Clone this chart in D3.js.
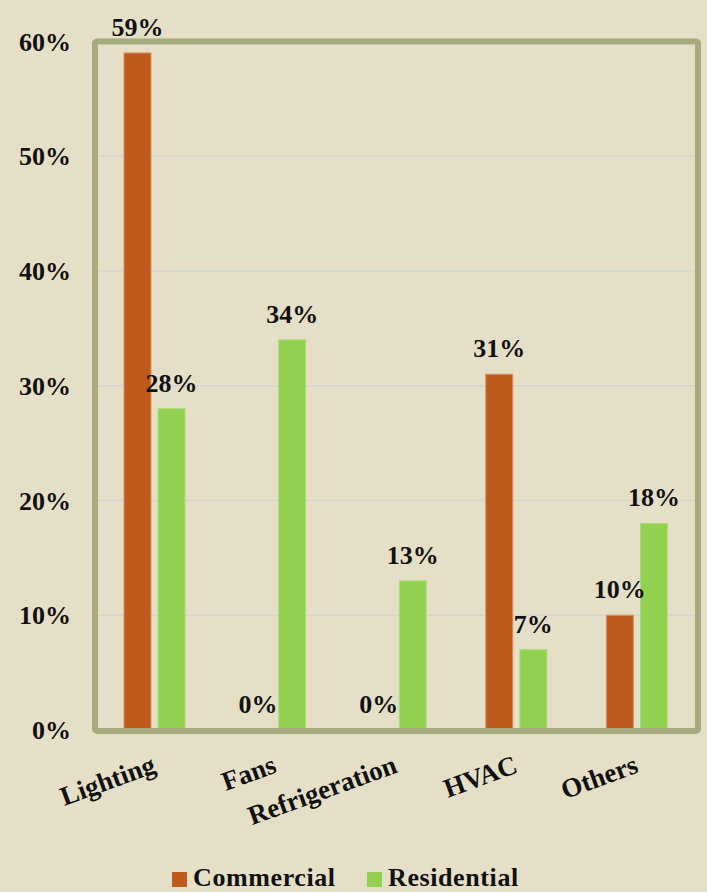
<!DOCTYPE html>
<html>
<head>
<meta charset="utf-8">
<script src="https://cdn.jsdelivr.net/npm/d3@7"></script>
<style>
  body { margin: 0; background: #e6dfc7; }
  svg text { font-family: "Liberation Serif", "Times New Roman", serif; font-weight: bold; fill: #111; }
</style>
</head>
<body>
<div id="chart"></div>
<script>
var categories = ["Lighting", "Fans", "Refrigeration", "HVAC", "Others"];
var seriesNames = ["Commercial", "Residential"];
var commercial = [59, 0, 0, 31, 10];
var residential = [28, 34, 13, 7, 18];
var yTicks = [0, 10, 20, 30, 40, 50, 60];
var colors = ["#be5a1b", "#92d050"];

var W = 707, H = 892;
var margin = {top: 41.5, right: 9, bottom: 162, left: 95};
var width = W - margin.left - margin.right,
    height = H - margin.top - margin.bottom;

var svg = d3.select("#chart").append("svg").attr("width", W).attr("height", H);
svg.append("rect").attr("width", W).attr("height", H).attr("fill", "#e6dfc7");

var g = svg.append("g").attr("transform", "translate(" + margin.left + "," + margin.top + ")");

var x = d3.scaleBand().domain(categories).range([0, width]);
var x1 = d3.scaleBand().domain(seriesNames).range([29, 90]).paddingInner(0.21);
var y = d3.scaleLinear().domain([0, 60]).range([height, 0]);

// gridlines
g.selectAll(".grid").data(yTicks.slice(1, -1)).enter().append("line")
  .attr("x1", 0).attr("x2", width)
  .attr("y1", function(d) { return y(d); }).attr("y2", function(d) { return y(d); })
  .attr("stroke", "#d6d4cc").attr("stroke-width", 1.5);

// bottom axis line
g.append("line").attr("x1", 0).attr("x2", width)
  .attr("y1", height + 2).attr("y2", height + 2)
  .attr("stroke", "#d3d2cb").attr("stroke-width", 2);

var data = [];
categories.forEach(function(c, i) {
  data.push({cat: c, series: "Commercial", value: commercial[i]});
  data.push({cat: c, series: "Residential", value: residential[i]});
});

g.selectAll(".bar").data(data.filter(function(d) { return d.value > 0; })).enter().append("rect")
  .attr("class", "bar")
  .attr("x", function(d) { return x(d.cat) + x1(d.series); })
  .attr("width", x1.bandwidth())
  .attr("y", function(d) { return y(d.value); })
  .attr("height", function(d) { return height - y(d.value); })
  .attr("fill", function(d) { return colors[seriesNames.indexOf(d.series)]; })
  .attr("stroke", function(d) { return d.series == "Commercial" ? "#d98a5c" : "#a8dc78"; })
  .attr("stroke-width", 1);

// data labels
var labels = g.selectAll(".label").data(data).enter().append("g");
labels.each(function(d) {
  var cx = x(d.cat) + x1(d.series) + x1.bandwidth() / 2;
  var top = y(d.value);
  var ly = top - 17;
  if (ly - 20 < -margin.top) {
    // label pushed up with a leader line
    ly = top - 26;
    d3.select(this).append("line")
      .attr("x1", cx).attr("x2", cx).attr("y1", ly + 9).attr("y2", top)
      .attr("stroke", "#a6a6a6").attr("stroke-width", 1);
  }
  d3.select(this).append("text")
    .attr("x", cx).attr("y", ly)
    .attr("text-anchor", "middle")
    .style("font-size", "26px")
    .text(d.value + "%");
});

// y axis labels
g.selectAll(".ylab").data(yTicks).enter().append("text")
  .attr("x", -24).attr("y", function(d) { return y(d); })
  .attr("dy", "0.35em")
  .attr("text-anchor", "end")
  .style("font-size", "26px")
  .text(function(d) { return d + "%"; });

// x axis labels
g.selectAll(".xlab").data(categories).enter().append("text")
  .attr("text-anchor", "end")
  .attr("transform", function(d) {
    return "translate(" + (x(d) + x.bandwidth() / 2 + 2) + "," + (height + 42) + ") rotate(-20)";
  })
  .style("font-size", "27px")
  .text(function(d) { return d; });

// plot border
g.append("rect").attr("x", 0).attr("y", 0).attr("width", width).attr("height", height + 1)
  .attr("fill", "none").attr("stroke", "#a7aa7f").attr("stroke-width", 6).attr("rx", 2);

// legend
var legend = svg.append("g").attr("transform", "translate(172,872)");
var lx = [0, 195];
seriesNames.forEach(function(s, i) {
  var item = legend.append("g").attr("transform", "translate(" + lx[i] + ",0)");
  item.append("rect").attr("width", 15).attr("height", 15).attr("fill", colors[i]);
  item.append("text").attr("x", 21).attr("y", 14).style("font-size", "26px")
    .style("letter-spacing", "0.6px").text(s);
});
</script>
</body>
</html>
